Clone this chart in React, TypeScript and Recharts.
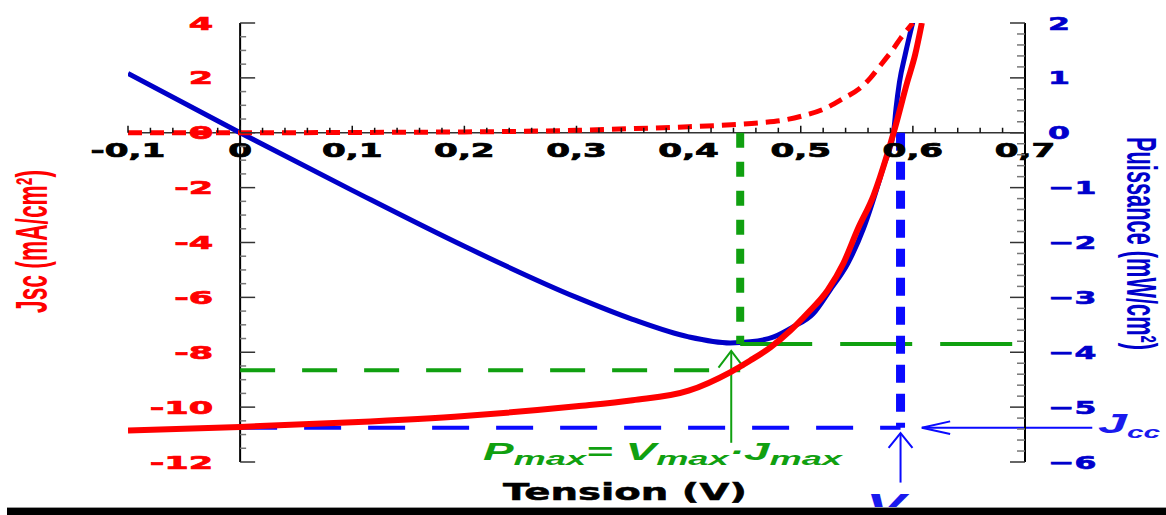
import {
  ComposedChart,
  Line,
  XAxis,
  YAxis,
  ReferenceLine,
} from 'recharts';

// chart frame (px)
const W = 1166;
const H = 515;
const PLOT_LEFT = 128;
const PLOT_RIGHT = 1025;
const PLOT_TOP = 23;
const PLOT_BOTTOM = 462;

const X_DOMAIN: [number, number] = [-0.1, 0.7];
const J_DOMAIN: [number, number] = [-12, 4];
const P_DOMAIN: [number, number] = [-6, 2];

// tick labels
const X_MAJOR = [-0.1, 0, 0.1, 0.2, 0.3, 0.4, 0.5, 0.6, 0.7];
const X_LABELS = ['-0,1', '0', '0,1', '0,2', '0,3', '0,4', '0,5', '0,6', '0,7'];
const J_MAJOR = [-12, -10, -8, -6, -4, -2, 0, 2, 4];
const P_MAJOR = [-6, -5, -4, -3, -2, -1, 0, 1, 2];

const X_TICKS = Array.from({ length: 41 }, (_, i) => Math.round((-0.1 + i * 0.02) * 100) / 100);
const J_TICKS = Array.from({ length: 33 }, (_, i) => -12 + i * 0.5);
const P_TICKS = Array.from({ length: 41 }, (_, i) => Math.round((-6 + i * 0.2) * 10) / 10);

// dark current (dashed red)
const DARK_V = [-0.1, 0, 0.1, 0.2, 0.25, 0.3, 0.35, 0.4, 0.446, 0.465, 0.483, 0.502, 0.522, 0.538, 0.552, 0.562, 0.569, 0.576, 0.583, 0.589, 0.595, 0.6];
const DARK_J = [0, 0, 0.01, 0.03, 0.05, 0.09, 0.15, 0.22, 0.31, 0.37, 0.45, 0.62, 0.89, 1.25, 1.6, 1.99, 2.35, 2.71, 3.08, 3.44, 3.75, 4.0];

// illuminated J-V (solid red)
const LIGHT_V = [-0.1, 0, 0.1, 0.2, 0.3, 0.35, 0.4, 0.437, 0.455, 0.473, 0.491, 0.506, 0.524, 0.538, 0.551, 0.565, 0.577, 0.584, 0.595, 0.602, 0.608];
const LIGHT_J = [-10.85, -10.72, -10.55, -10.32, -9.97, -9.75, -9.4, -8.73, -8.3, -7.82, -7.2, -6.58, -5.74, -4.76, -3.5, -2.28, -0.81, 0.17, 1.85, 2.84, 4.0];

// power density (solid blue, right axis)
const POWER_V = [-0.1, 0, 0.1, 0.2, 0.3, 0.35, 0.4, 0.437, 0.455, 0.476, 0.493, 0.511, 0.526, 0.542, 0.556, 0.574, 0.583, 0.585, 0.588, 0.593, 0.6];
const POWER_P = [1.08, 0, -1.05, -2.07, -3.0, -3.4, -3.72, -3.83, -3.81, -3.72, -3.54, -3.3, -2.87, -2.38, -1.74, -0.6, 0.05, 0.45, 0.92, 1.41, 2.02];

// characteristic points
const V_MAX = 0.446;
const J_MAX = -8.66;
const P_MAX = -3.85;
const V_OC = 0.589;
const J_CC = -10.75;

const darkData = DARK_V.map((v, i) => ({ v, j: DARK_J[i] }));
const lightData = LIGHT_V.map((v, i) => ({ v, j: LIGHT_J[i] }));
const powerData = POWER_V.map((v, i) => ({ v, p: POWER_P[i] }));

const ZERO_X = PLOT_LEFT + ((0 - X_DOMAIN[0]) / (X_DOMAIN[1] - X_DOMAIN[0])) * (PLOT_RIGHT - PLOT_LEFT);
const ZERO_Y = PLOT_TOP + ((J_DOMAIN[1] - 0) / (J_DOMAIN[1] - J_DOMAIN[0])) * (PLOT_BOTTOM - PLOT_TOP);

const RED = '#ff0000';
const BLUE = '#0000c8';
const BLUE_DASH = '#0a0aff';
const GREEN = '#10a010';
const TICK_FONT = 'DejaVu Sans, Verdana, sans-serif';

const XTick = (props: any) => {
  const { x, payload } = props;
  const idx = X_MAJOR.findIndex((m) => Math.abs(m - payload.value) < 1e-6);
  const major = idx >= 0;
  return (
    <g>
      <line x1={x} x2={x} y1={ZERO_Y} y2={ZERO_Y - (major ? 7 : 5)} stroke="#111" strokeWidth={1.5} />
      {major && (
        <text
          transform={`translate(${x},${ZERO_Y + 24}) scale(1.8,1)`}
          textAnchor="middle"
          fontFamily={TICK_FONT}
          fontWeight="bold"
          fontSize={19}
          fill="#000"
          stroke="#000"
          strokeWidth={0.7}
        >
          {X_LABELS[idx]}
        </text>
      )}
    </g>
  );
};

const JTick = (props: any) => {
  const { y, payload } = props;
  const major = J_MAJOR.includes(payload.value);
  return (
    <g>
      <line x1={ZERO_X} x2={ZERO_X + (major ? 15 : 6)} y1={y} y2={y} stroke={major ? '#333' : '#777'} strokeWidth={1.5} />
      {major && (
        <text
          transform={`translate(${ZERO_X - 27},${y + 6.5}) scale(1.95,1)`}
          textAnchor="end"
          fontFamily={TICK_FONT}
          fontWeight="bold"
          fontSize={18}
          fill={RED}
          stroke={RED}
          strokeWidth={0.7}
        >
          {payload.value}
        </text>
      )}
    </g>
  );
};

const PTick = (props: any) => {
  const { y, payload } = props;
  const major = P_MAJOR.includes(payload.value);
  return (
    <g>
      <line x1={PLOT_RIGHT} x2={PLOT_RIGHT - (major ? 15 : 8)} y1={y} y2={y} stroke={major ? '#333' : '#777'} strokeWidth={1.5} />
      {major && (
        <text
          transform={`translate(${PLOT_RIGHT + 23},${y + 6.5}) scale(1.75,1)`}
          textAnchor="start"
          fontFamily={TICK_FONT}
          fontWeight="bold"
          fontSize={18}
          fill="#0000cc"
          stroke="#0000cc"
          strokeWidth={0.6}
        >
          {payload.value < 0 ? `−${-payload.value}` : payload.value}
        </text>
      )}
    </g>
  );
};

// segment with an open arrowhead at its second end point
const arrowShape = (color: string, len: number, spread: number) => (props: any) => {
  const { x1, y1, x2, y2 } = props;
  const ang = Math.atan2(y1 - y2, x1 - x2);
  const ax = x2 + len * Math.cos(ang - spread);
  const ay = y2 + len * Math.sin(ang - spread);
  const bx = x2 + len * Math.cos(ang + spread);
  const by = y2 + len * Math.sin(ang + spread);
  return (
    <g>
      <line x1={x1} y1={y1} x2={x2} y2={y2} stroke={color} strokeWidth={2} />
      <polyline points={`${ax},${ay} ${x2},${y2} ${bx},${by}`} fill="none" stroke={color} strokeWidth={2} />
    </g>
  );
};

export default function App() {
  return (
    <div style={{ position: 'fixed', left: 0, top: 0, width: W, height: H, background: '#fff', overflow: 'hidden' }}>
      <ComposedChart width={W} height={H} margin={{ top: PLOT_TOP, right: 0, bottom: 0, left: 0 }}>
        <XAxis
          dataKey="v"
          type="number"
          domain={X_DOMAIN}
          ticks={X_TICKS}
          interval={0}
          allowDataOverflow
          height={H - PLOT_BOTTOM}
          axisLine={false}
          tickLine={false}
          tick={(p: any) => <XTick {...p} />}
        />
        <YAxis
          yAxisId="j"
          type="number"
          domain={J_DOMAIN}
          ticks={J_TICKS}
          interval={0}
          allowDataOverflow
          width={PLOT_LEFT}
          axisLine={false}
          tickLine={false}
          tick={(p: any) => <JTick {...p} />}
        />
        <YAxis
          yAxisId="p"
          orientation="right"
          type="number"
          domain={P_DOMAIN}
          ticks={P_TICKS}
          interval={0}
          allowDataOverflow
          width={W - PLOT_RIGHT}
          axisLine={{ stroke: '#000', strokeWidth: 2 }}
          tickLine={false}
          tick={(p: any) => <PTick {...p} />}
        />

        {/* x axis through J = 0, left axis through V = 0 */}
        <ReferenceLine yAxisId="j" y={0} stroke="#333" strokeWidth={1.5} />
        <ReferenceLine yAxisId="j" x={0} stroke="#000" strokeWidth={2} />

        <Line
          yAxisId="p"
          data={powerData}
          dataKey="p"
          type="monotone"
          stroke={BLUE}
          strokeWidth={5}
          dot={false}
          activeDot={false}
          isAnimationActive={false}
        />

        {/* Pmax construction */}
        <ReferenceLine
          yAxisId="p"
          segment={[{ x: V_MAX, y: 0 }, { x: V_MAX, y: P_MAX }]}
          stroke={GREEN}
          strokeWidth={8}
          strokeDasharray="15 14"
        />
        <ReferenceLine
          yAxisId="j"
          segment={[{ x: 0, y: J_MAX }, { x: V_MAX, y: J_MAX }]}
          stroke={GREEN}
          strokeWidth={4}
          strokeDasharray="35 27"
        />
        <ReferenceLine
          yAxisId="p"
          segment={[{ x: V_MAX, y: P_MAX }, { x: X_DOMAIN[1], y: P_MAX }]}
          stroke={GREEN}
          strokeWidth={4}
          strokeDasharray="72 28"
        />
        <ReferenceLine
          yAxisId="j"
          ifOverflow="visible"
          segment={[{ x: V_MAX - 0.008, y: -11.3 }, { x: V_MAX - 0.008, y: -7.95 }]}
          shape={arrowShape(GREEN, 21, 0.65)}
        />

        {/* Voc / Jcc construction */}
        <ReferenceLine
          yAxisId="j"
          segment={[{ x: 0, y: J_CC }, { x: V_OC, y: J_CC }]}
          stroke={BLUE_DASH}
          strokeWidth={4}
          strokeDasharray="37 27"
        />
        <ReferenceLine
          yAxisId="j"
          segment={[{ x: V_OC, y: 0 }, { x: V_OC, y: J_CC }]}
          stroke={BLUE_DASH}
          strokeWidth={9}
          strokeDasharray="18 11"
        />
        <ReferenceLine
          yAxisId="j"
          ifOverflow="visible"
          segment={[{ x: 0.76, y: J_CC }, { x: 0.608, y: J_CC }]}
          shape={arrowShape(BLUE_DASH, 29, 0.22)}
        />
        <ReferenceLine
          yAxisId="j"
          ifOverflow="visible"
          segment={[{ x: V_OC, y: -12.75 }, { x: V_OC, y: -10.95 }]}
          shape={arrowShape(BLUE_DASH, 19, 0.68)}
        />

        <Line
          yAxisId="j"
          data={darkData}
          dataKey="j"
          type="monotone"
          stroke={RED}
          strokeWidth={5}
          strokeDasharray="14 8"
          dot={false}
          activeDot={false}
          isAnimationActive={false}
        />
        <Line
          yAxisId="j"
          data={lightData}
          dataKey="j"
          type="monotone"
          stroke={RED}
          strokeWidth={6}
          dot={false}
          activeDot={false}
          isAnimationActive={false}
        />
      </ComposedChart>

      <svg width={W} height={H} style={{ position: 'absolute', left: 0, top: 0, pointerEvents: 'none' }}>
        <text
          x={625}
          y={500}
          textAnchor="middle"
          fontFamily={TICK_FONT}
          fontWeight="bold"
          fontSize={23}
          stroke="#000"
          strokeWidth={0.5}
          textLength={244}
          lengthAdjust="spacingAndGlyphs"
        >
          Tension (V)
        </text>
        <text
          transform="translate(47,241.5) rotate(-90)"
          x={-71.5}
          y={0}
          fontFamily="Liberation Sans, Arial, sans-serif"
          fontWeight="bold"
          fontSize={44}
          fill={RED}
          textLength={143}
          lengthAdjust="spacingAndGlyphs"
        >
          Jsc (mA/cm²)
        </text>
        <text
          transform="translate(1127,243.5) rotate(90)"
          x={-106.5}
          y={0}
          fontFamily="Liberation Sans, Arial, sans-serif"
          fontWeight="bold"
          fontSize={42}
          fill="#0000cc"
          textLength={213}
          lengthAdjust="spacingAndGlyphs"
        >
          Puissance (mW/cm²)
        </text>

        <text
          x={483}
          y={460}
          fontFamily="Liberation Sans, Arial, sans-serif"
          fontWeight="bold"
          fontStyle="italic"
          fontSize={24}
          fill={GREEN}
          textLength={359}
          lengthAdjust="spacingAndGlyphs"
        >
          P<tspan fontSize={19} dy={5}>max</tspan>
          <tspan dy={-5}>= V</tspan>
          <tspan fontSize={19} dy={5}>max</tspan>
          <tspan dy={-5}>·J</tspan>
          <tspan fontSize={19} dy={5}>max</tspan>
        </text>

        <text
          x={1098}
          y={433}
          fontFamily="Liberation Sans, Arial, sans-serif"
          fontWeight="bold"
          fontStyle="italic"
          fontSize={28}
          fill="#1a1aee"
          textLength={62}
          lengthAdjust="spacingAndGlyphs"
        >
          J<tspan fontSize={16} dy={5}>cc</tspan>
        </text>
        <text
          x={866}
          y={516}
          fontFamily="Liberation Sans, Arial, sans-serif"
          fontWeight="bold"
          fontStyle="italic"
          fontSize={32}
          fill="#1a1aee"
          textLength={80}
          lengthAdjust="spacingAndGlyphs"
        >
          V<tspan fontSize={19} dy={3}>oc</tspan>
        </text>

        <rect x={7} y={507} width={W - 7} height={1} fill="#999" />
        <rect x={7} y={508} width={W - 7} height={7} fill="#000" />
      </svg>
    </div>
  );
}
